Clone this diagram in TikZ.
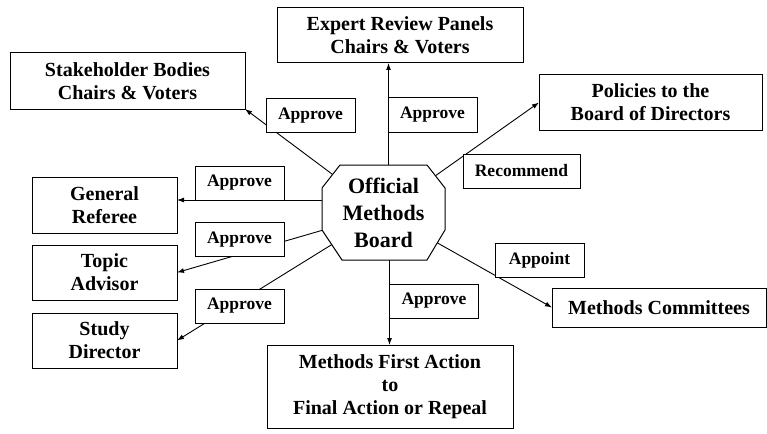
\documentclass[tikz,border=0pt]{standalone}
\usepackage{fontspec}
\setmainfont{Liberation Serif}
\usetikzlibrary{arrows.meta, positioning}
\pgfdeclarelayer{bg}
\pgfsetlayers{bg,main}

\begin{document}
\begin{tikzpicture}[
    x=1pt, y=-1pt,
    node distance = 12pt and 18pt,
    boks/.style = {rectangle, draw, line width=1pt, align=center, inner sep=0pt, outer sep=0pt,
                   font=\fontsize{20}{23}\selectfont\bfseries},
    lapp/.style = {rectangle, draw, fill=white, line width=1pt, inner sep=0pt, outer sep=0pt,
                   minimum width=89pt, minimum height=34pt, font=\fontsize{17.5}{20}\selectfont\bfseries},
    pil/.style = {black, line width=0.9pt, -{Latex[length=7pt,width=5pt]}},
    ]
  \useasboundingbox (0,0) rectangle (767,433);

  \node[rectangle, minimum width=123pt, minimum height=95pt, inner sep=0pt, outer sep=0pt,
        align=center, font=\fontsize{22}{27}\selectfont\bfseries] (ob) at (383.5,212.5)
        {Official\\Methods\\Board} ;

  \node[boks, minimum width=246pt, minimum height=55pt] (ep) at (400,35.5) {Expert Review Panels\\Chairs \& Voters} ;
  \node[boks, minimum width=235pt, minimum height=56pt] (sb) at (127.5,81) {Stakeholder Bodies\\Chairs \& Voters} ;
  \node[boks, minimum width=223pt, minimum height=55pt] (pd) at (650.5,102.5) {Policies to the\\Board of Directors} ;

  \node[boks, minimum width=145pt, minimum height=56pt] (gr) at (104.5,205) {General\\Referee} ;
  \node[boks, minimum width=145pt, minimum height=55pt] (ta) [below=of gr] {Topic\\Advisor} ;
  \node[boks, minimum width=145pt, minimum height=55pt] (sd) [below=13pt of ta] {Study\\Director} ;

  \node[boks, minimum width=246pt, minimum height=83pt] (fa) at (390,386.5) {Methods First Action\\to\\Final Action or Repeal} ;
  \node[boks, minimum width=214pt, minimum height=39pt] (mc) at (659,307.5) {Methods Committees} ;

  \begin{pgfonlayer}{bg}
    \draw[pil] (ob.center) -- (sb.south east);
    \draw[pil] ([xshift=5pt]ob.north) -- ([xshift=5pt]ob.north |- ep.south);
    \draw[pil] (ob.center) -- (pd.west);
    \draw[pil] ([yshift=12.5pt]ob.west) -- ([yshift=12.5pt]ob.west -| gr.east);
    \draw[pil] (ob.center) -- (ta.east);
    \draw[pil] (ob.center) -- (sd.east);
    \draw[pil] ([xshift=6pt]ob.south) -- ([xshift=6pt]ob.south |- fa.north);
    \draw[pil] (ob.center) -- (mc.west);

    % octagon drawn by hand round the text node, over the line ends
    \draw[line width=1pt, fill=white]
      ([xshift=18pt]ob.north west) -- ([xshift=-18pt]ob.north east)
      -- ([yshift=-23pt]ob.north east) -- ([yshift=30pt]ob.south east)
      -- ([xshift=-18pt]ob.south east) -- ([xshift=20pt]ob.south west)
      -- ([yshift=30pt]ob.south west) -- ([yshift=-23pt]ob.north west) -- cycle;
  \end{pgfonlayer}

  \node[lapp] (a1) at (310.5,115.5) {Approve} ;
  \node[lapp] (a2) at (432.5,115) {Approve} ;
  \node[lapp] (a3) at (239.5,183) {Approve} ;
  \node[lapp] (a4) at (239.5,239.5) {Approve} ;
  \node[lapp] (a5) at (239.5,306) {Approve} ;
  \node[lapp] (a6) at (434,301) {Approve} ;
  \node[lapp, minimum width=117pt] (rec) at (521.5,171) {Recommend} ;
  \node[lapp] (app) at (539.5,260) {Appoint} ;

\end{tikzpicture}
\end{document}
